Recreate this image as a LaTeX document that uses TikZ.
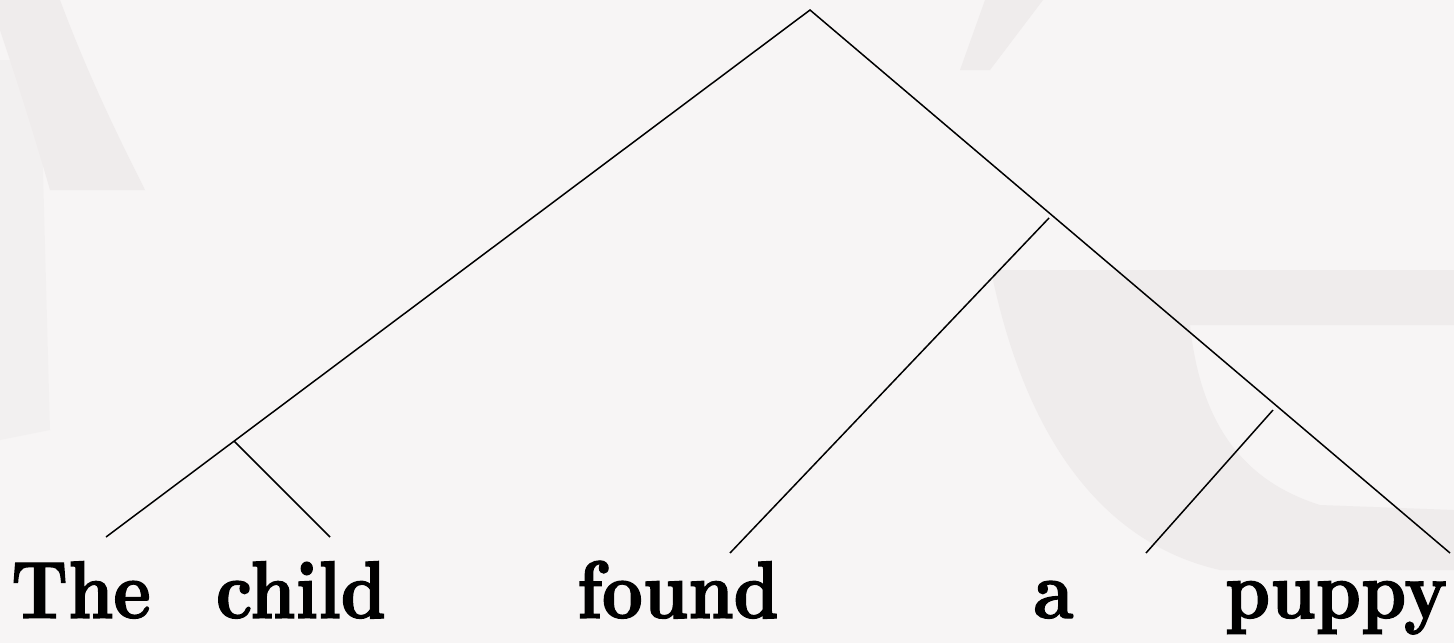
\documentclass[tikz,border=0pt]{standalone}
\usepackage{fontspec}
\newfontfamily\wordfont{lmroman10-bold.otf}[FakeStretch=0.87,FakeBold=1.6]
\definecolor{bgpaper}{HTML}{F7F5F5}
\definecolor{wmark}{HTML}{EFECEC}
\tikzset{
  branch/.style={line width=0.75pt, black},
  word/.style={anchor=base, inner sep=0pt, font=\wordfont\fontsize{40.8}{48}\selectfont},
}
\begin{document}
\begin{tikzpicture}[x=0.5pt,y=-0.5pt]
  \useasboundingbox (0,0) rectangle (1454,643);
  \fill[bgpaper] (0,0) rectangle (1454,643);
  % faint watermark shapes
  \fill[wmark] (0,0) -- (60,0) .. controls (90,80) and (120,140) .. (145,190) -- (50,190) .. controls (30,120) and (10,60) .. (0,30) -- cycle;
  \fill[wmark, opacity=0.5] (0,60) -- (40,60) -- (50,430) -- (0,440) -- cycle;
  \fill[wmark] (985,0) -- (1043,0) -- (990,70) -- (960,70) -- cycle;
  \fill[wmark] (993,270) -- (1454,270) -- (1454,325) -- (1190,325) .. controls (1200,420) and (1240,480) .. (1320,505) -- (1454,510) -- (1454,570) -- (1220,570) .. controls (1110,545) and (1030,450) .. (993,280) -- cycle;

  % tree points
  \coordinate (root) at (810,10);
  \coordinate (nL)   at (234,441);
  \coordinate (nR)   at (1049,218);
  \coordinate (nRR)  at (1273,410);
  \coordinate (eThe)   at (106,537);
  \coordinate (eChild) at (330,537);
  \coordinate (eFound) at (730,553);
  \coordinate (eA)     at (1146,553);
  \coordinate (ePuppy) at (1450,553);

  \draw[branch] (eThe) -- (root) -- (ePuppy);
  \draw[branch] (nL) -- (eChild);
  \draw[branch] (nR) -- (eFound);
  \draw[branch] (nRR) -- (eA);

  % words
  \node[word] (wThe)   at (81,618)   {The};
  \node[word] (wChild) at (301,618)  {child};
  \node[word] (wFound) at (678,618)  {found};
  \node[word] (wA)     at (1053.5,618) {a};
  \node[word] (wPuppy) at (1336,618) {puppy};
\end{tikzpicture}
\end{document}
